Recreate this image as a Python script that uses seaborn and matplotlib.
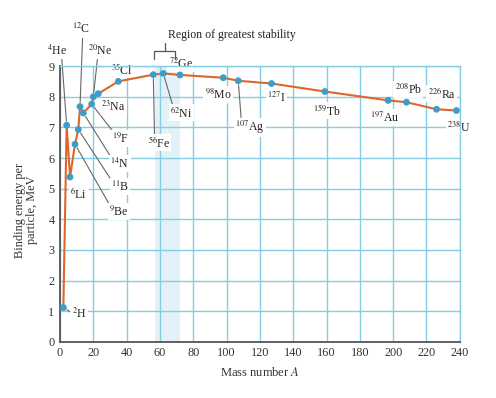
import matplotlib
matplotlib.use("Agg")
import matplotlib.pyplot as plt
import seaborn as sns
import pandas as pd

# --- Dados: energia de ligação por núcleon ---
elementos = ['H', 'He', 'Li', 'Be', 'B', 'C', 'N', 'F', 'Ne', 'Na', 'Cl',
             'Fe', 'Ni', 'Ge', 'Mo', 'Ag', 'I', 'Tb', 'Au', 'Pb', 'Ra', 'U']
numero_massa = [2, 4, 6, 9, 11, 12, 14, 19, 20, 23, 35,
                56, 62, 72, 98, 107, 127, 159, 197, 208, 226, 238]
energia = [1.12, 7.07, 5.38, 6.45, 6.93, 7.68, 7.47, 7.76, 8.00, 8.10, 8.50,
           8.72, 8.76, 8.71, 8.62, 8.52, 8.43, 8.17, 7.88, 7.82, 7.59, 7.55]

regiao_estavel = [57, 72]
x_ticks = list(range(0, 241, 20))
y_ticks = list(range(0, 10))

# posição dos rótulos (centro, em coordenadas de dados) e ponto de saída da linha guia
pos_rotulos = {
    'H': (11.4, 0.9, (0.0, 0.6)), 'He': (-2.0, 9.5, (0.75, 0.0)),
    'Li': (11.4, 4.84, None), 'Be': (35.4, 4.25, (0.05, 0.9)),
    'B': (36.0, 5.07, (0.05, 0.9)), 'C': (12.5, 10.2, (0.6, 0.0)),
    'N': (36.0, 5.82, (0.05, 0.9)), 'F': (36.6, 6.63, (0.1, 0.9)),
    'Ne': (24.0, 9.5, (0.4, 0.0)), 'Na': (32.0, 7.68, None),
    'Cl': (37.0, 8.9, None), 'Fe': (59.4, 6.5, (0.3, 1.0)),
    'Ni': (73.0, 7.48, (0.1, 1.0)), 'Ge': (72.5, 9.07, None),
    'Mo': (94.8, 8.07, None), 'Ag': (114.0, 7.0, (0.2, 1.0)),
    'I': (130.0, 7.97, None), 'Tb': (160.0, 7.55, None),
    'Au': (195.0, 7.32, None), 'Pb': (209.0, 8.23, None),
    'Ra': (229.0, 8.1, None), 'U': (239.4, 7.0, None),
}

df = pd.DataFrame({'A': numero_massa, 'E': energia, 'el': elementos})

# --- Estilo ---
sns.set_theme(style="white")
plt.rcParams['font.family'] = ['Liberation Serif', 'DejaVu Serif']
plt.rcParams['mathtext.fontset'] = 'stix'

cor_grade = '#86cde4'
cor_faixa = '#e3f2f8'
cor_linha = '#e0652b'
cor_ponto = '#3b9dca'
cor_eixo = '#555555'

fig = plt.figure(figsize=(4.96, 3.98), dpi=100)
ax = fig.add_axes([0.121, 0.141, 0.806, 0.693])

ax.axvspan(regiao_estavel[0], regiao_estavel[1], color=cor_faixa, zorder=0, lw=0)
ax.set_axisbelow(True)
ax.grid(True, color=cor_grade, lw=1.0)

sns.lineplot(data=df, x='A', y='E', sort=False, color=cor_linha, lw=1.5, ax=ax, zorder=3)
sns.scatterplot(data=df, x='A', y='E', color=cor_ponto, s=24, edgecolor='none', ax=ax, zorder=4)

ax.set_xlim(0, 240)
ax.set_ylim(0, 9)
ax.set_xticks(x_ticks)
ax.set_yticks(y_ticks)
ax.tick_params(direction='in', length=4, width=1, color=cor_eixo, labelsize=8.8,
               labelcolor='#333333', pad=4)
for lado in ['left', 'bottom']:
    ax.spines[lado].set_color(cor_eixo)
    ax.spines[lado].set_linewidth(1.3)
for lado in ['top', 'right']:
    ax.spines[lado].set_color(cor_grade)
    ax.spines[lado].set_linewidth(1.0)

ax.set_xlabel('Mass number $A$', fontsize=9, color='#333333', labelpad=5)
ax.set_ylabel('')
ax.text(-0.085, 0.478, 'Binding energy per\nparticle, MeV', transform=ax.transAxes,
        rotation=90, ha='center', va='center', fontsize=8.8, color='#333333',
        linespacing=1.1)

# rótulos dos nuclídeos
for a, e, el in zip(numero_massa, energia, elementos):
    tx, ty, rel = pos_rotulos[el]
    texto = f'$^{{{a}}}$' + el
    caixa = dict(boxstyle='square,pad=0.1', fc='white', ec='none')
    if rel is None:
        ax.text(tx, ty, texto, ha='center', va='center', fontsize=8.5,
                color='#222222', bbox=caixa, zorder=2.5)
    else:
        ax.annotate(texto, xy=(a, e), xytext=(tx, ty), textcoords='data',
                    ha='center', va='center', fontsize=8.5, color='#222222',
                    bbox=caixa, zorder=2.5, annotation_clip=False,
                    arrowprops=dict(arrowstyle='-', color='#666666', lw=0.8,
                                    relpos=rel, shrinkA=0, shrinkB=3))

# chave da região de maior estabilidade
chave_x = [56.5, 69.0]
lo, hi = chave_x
meio = (lo + hi) / 2
ax.plot([lo, lo, hi, hi], [9.22, 9.5, 9.5, 9.22], color='#555555', lw=0.9,
        clip_on=False, zorder=5)
ax.plot([meio, meio], [9.5, 9.75], color='#555555', lw=0.9, clip_on=False, zorder=5)
ax.text(103, 10.02, 'Region of greatest stability', ha='center', va='center',
        fontsize=8.5, color='#222222')

fig.savefig('out.png', dpi=100)
